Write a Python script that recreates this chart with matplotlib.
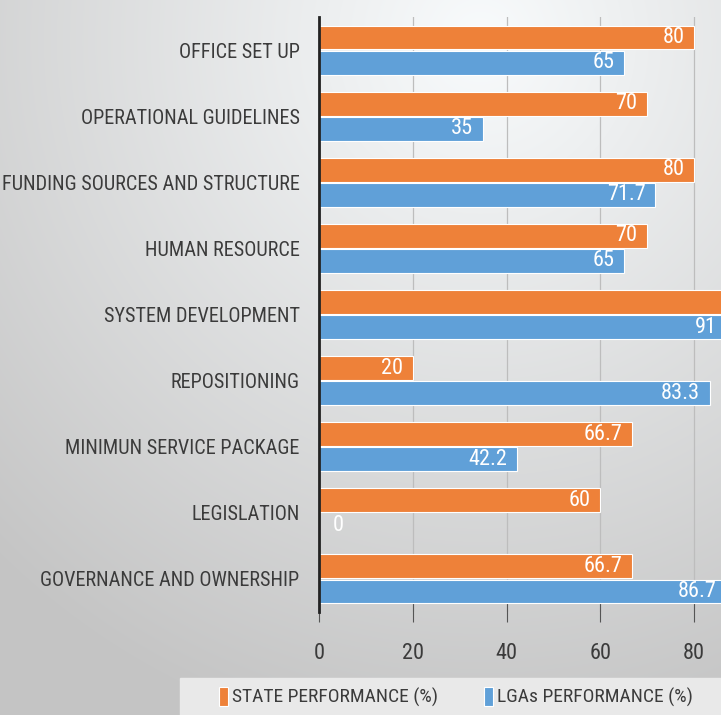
import numpy as np
import matplotlib
matplotlib.use("Agg")
import matplotlib.pyplot as plt
from matplotlib import font_manager

# pick a narrow face if one is installed
names = {f.name for f in font_manager.fontManager.ttflist}
font = "DejaVu Sans"
for cand in ["Liberation Sans Narrow", "DejaVu Sans Condensed", "Roboto Condensed",
             "Open Sans Condensed", "Noto Sans"]:
    if cand in names:
        font = cand
        break
plt.rcParams['font.family'] = [font, 'DejaVu Sans']

categories = ["OFFICE SET UP", "OPERATIONAL GUIDELINES", "FUNDING SOURCES AND STRUCTURE",
              "HUMAN RESOURCE", "SYSTEM DEVELOPMENT", "REPOSITIONING",
              "MINIMUN SERVICE PACKAGE", "LEGISLATION", "GOVERNANCE AND OWNERSHIP"]
state = [80, 70, 80, 70, 100, 20, 66.7, 60, 66.7]
lgas = [65, 35, 71.7, 65, 91, 83.3, 42.2, 0, 86.7]
# the 100 label sits outside the cropped picture, so it is left blank
state_labels = ["80", "70", "80", "70", "", "20", "66.7", "60", "66.7"]
lga_labels = ["65", "35", "71.7", "65", "91", "83.3", "42.2", "0", "86.7"]
xticks = [0, 20, 40, 60, 80]

orange = "#EE8139"
blue = "#60A0D8"
txt = "#3b3b3b"

fig = plt.figure(figsize=(7.21, 7.15), dpi=100)

# gradient backdrop
bg = fig.add_axes([0, 0, 1, 1], zorder=0)
yy, xx = np.mgrid[0:715, 0:721]
r = np.sqrt(((xx - 480) / 700.0) ** 2 + ((yy - 40) / 720.0) ** 2)
r = np.clip(r, 0, 1)
c0 = np.array([0.975, 0.985, 0.99])
c1 = np.array([0.77, 0.77, 0.77])
img = c0[None, None, :] * (1 - r[..., None]) + c1[None, None, :] * r[..., None]
bg.imshow(img, aspect="auto", extent=[0, 1, 0, 1])
bg.add_patch(plt.Rectangle((180 / 721, 0), 1, 37 / 715, color="#e9e9e9", zorder=2))
bg.axis("off")

ax = fig.add_axes([319 / 721, 1 - 612 / 715, (788 - 319) / 721, (612 - 17) / 715], zorder=1)
ax.patch.set_alpha(0)
y = np.arange(len(categories))
off, h = 0.19, 0.36
b1 = ax.barh(y - off, state, height=h, color=orange, edgecolor="white", linewidth=0.8,
             label="STATE PERFORMANCE (%)", zorder=3)
b2 = ax.barh(y + off, lgas, height=h, color=blue, edgecolor="white", linewidth=0.8,
             label="LGAs PERFORMANCE (%)", zorder=3)

xmax_vis = (721 - 319) / (788 - 319) * 100  # visible right edge in data units
for bars, labs in ((b1, state_labels), (b2, lga_labels)):
    for bar, lab in zip(bars, labs):
        if not lab:
            continue
        w = bar.get_width()
        yc = bar.get_y() + bar.get_height() / 2
        if w == 0:
            ax.annotate(lab, (0, yc), xytext=(10, 0), textcoords="offset points",
                        ha="left", va="center", color="white", fontsize=16, zorder=4)
        else:
            ax.annotate(lab, (min(w, xmax_vis), yc), xytext=(-7 if w < xmax_vis else -3, 0),
                        textcoords="offset points",
                        ha="right", va="center", color="white", fontsize=16, zorder=4)

ax.set_xlim(0, 100)
ax.set_ylim(len(categories) - 0.5, -0.5)
ax.set_yticks(y)
ax.set_yticklabels(categories, fontsize=14.6, color=txt)
ax.set_xticks(xticks)
ax.set_xticklabels([str(t) for t in xticks], fontsize=16, color=txt)
ax.tick_params(axis="y", length=0, pad=14)
ax.tick_params(axis="x", direction="inout", length=14, color="#555555", pad=15)
ax.grid(axis="x", color="#bdbdbd", linewidth=0.9, zorder=0)
ax.axvline(100, color="#bdbdbd", linewidth=0.9, zorder=0)
for s in ("top", "right", "bottom"):
    ax.spines[s].set_visible(False)
ax.spines["left"].set_color("#222222")
ax.spines["left"].set_linewidth(2)
ax.spines["left"].set_zorder(5)

fig.legend(handles=[b1, b2], loc="center", bbox_to_anchor=(456 / 721, 1 - 697 / 715),
           ncol=2, frameon=False, fontsize=14, handlelength=0.45, handleheight=1.1,
           handletextpad=0.2, columnspacing=2.4, labelcolor=txt)

fig.savefig("out.png", dpi=100)
